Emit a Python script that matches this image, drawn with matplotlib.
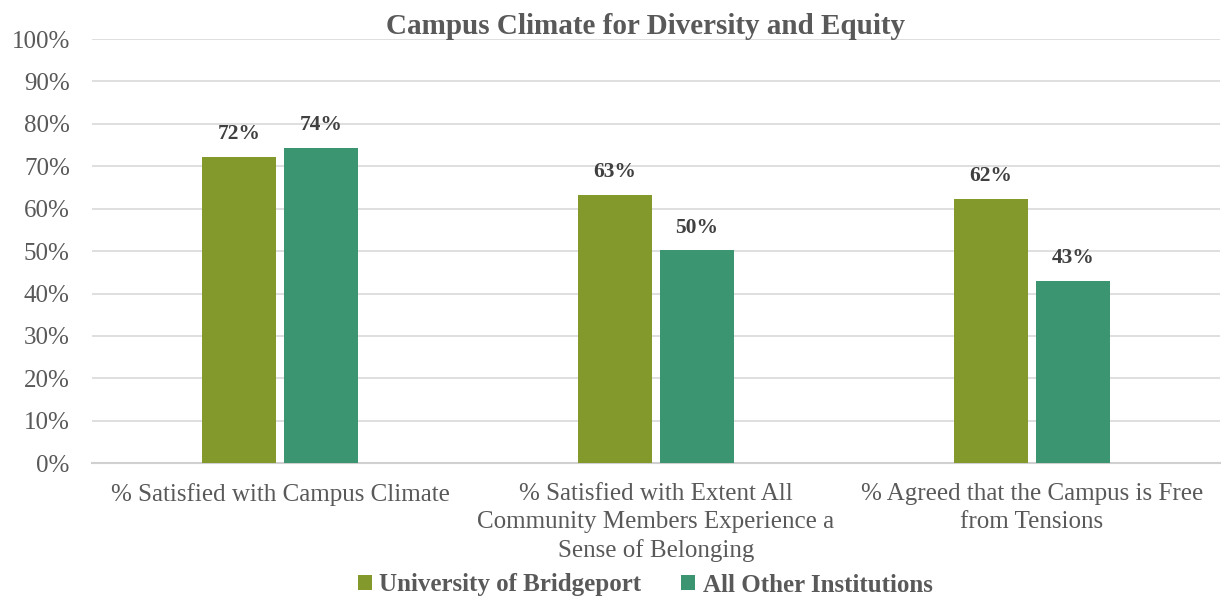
import numpy as np
import matplotlib
matplotlib.use("Agg")
from matplotlib import pyplot as plt
from matplotlib.ticker import PercentFormatter

categories = [
    "% Satisfied with Campus Climate",
    "% Satisfied with Extent All\nCommunity Members Experience a\nSense of Belonging",
    "% Agreed that the Campus is Free\nfrom Tensions",
]
bridgeport = [72.3, 63.3, 62.3]
others = [74.3, 50.2, 42.9]
series_names = ["University of Bridgeport", "All Other Institutions"]

plt.rcParams["font.family"] = ["Liberation Serif", "DejaVu Serif"]
text_color = "#595959"

fig = plt.figure(figsize=(12.22, 6.0), dpi=100)
ax = fig.add_axes([0.0753, 0.228, 0.923, 0.707])

x = np.arange(len(categories))
w = 0.196
b1 = ax.bar(x - w / 2 - 0.011, bridgeport, w, color="#84992B", label=series_names[0], zorder=3)
b2 = ax.bar(x + w / 2 + 0.011, others, w, color="#3B9570", label=series_names[1], zorder=3)

for bars in (b1, b2):
    for rect in bars:
        h = rect.get_height()
        ax.text(rect.get_x() + rect.get_width() / 2, h + 3.0, f"{h:.0f}%",
                ha="center", va="bottom", fontsize=15.5, fontweight="bold", color="#404040")

ax.set_xlim(-0.5, 2.5)
ax.set_ylim(0, 100)
ax.set_yticks(np.arange(0, 101, 10))
ax.yaxis.set_major_formatter(PercentFormatter(decimals=0))
ax.set_xticks(x)
ax.set_xticklabels(categories, fontsize=18, color=text_color, linespacing=1.35)
ax.tick_params(axis="y", labelsize=18, labelcolor=text_color, length=0, pad=16)
ax.tick_params(axis="x", length=0, pad=14)
ax.grid(axis="y", color="#D9D9D9", linewidth=1.2, zorder=0)
for s in ["top", "right", "left"]:
    ax.spines[s].set_visible(False)
ax.spines["bottom"].set_color("#D0D0D0")
ax.spines["bottom"].set_linewidth(1.5)

fig.text(0.528, 0.955, "Campus Climate for Diversity and Equity", ha="center", va="center",
         fontsize=21, fontweight="bold", color=text_color)

fig.legend(handles=[b1, b2], loc="center", bbox_to_anchor=(0.528, 0.025), ncol=2, frameon=False,
           prop={"size": 18, "weight": "bold"}, labelcolor=text_color,
           handlelength=0.55, handleheight=0.55, handletextpad=0.3, columnspacing=1.6)

fig.savefig("out.png", dpi=100)
